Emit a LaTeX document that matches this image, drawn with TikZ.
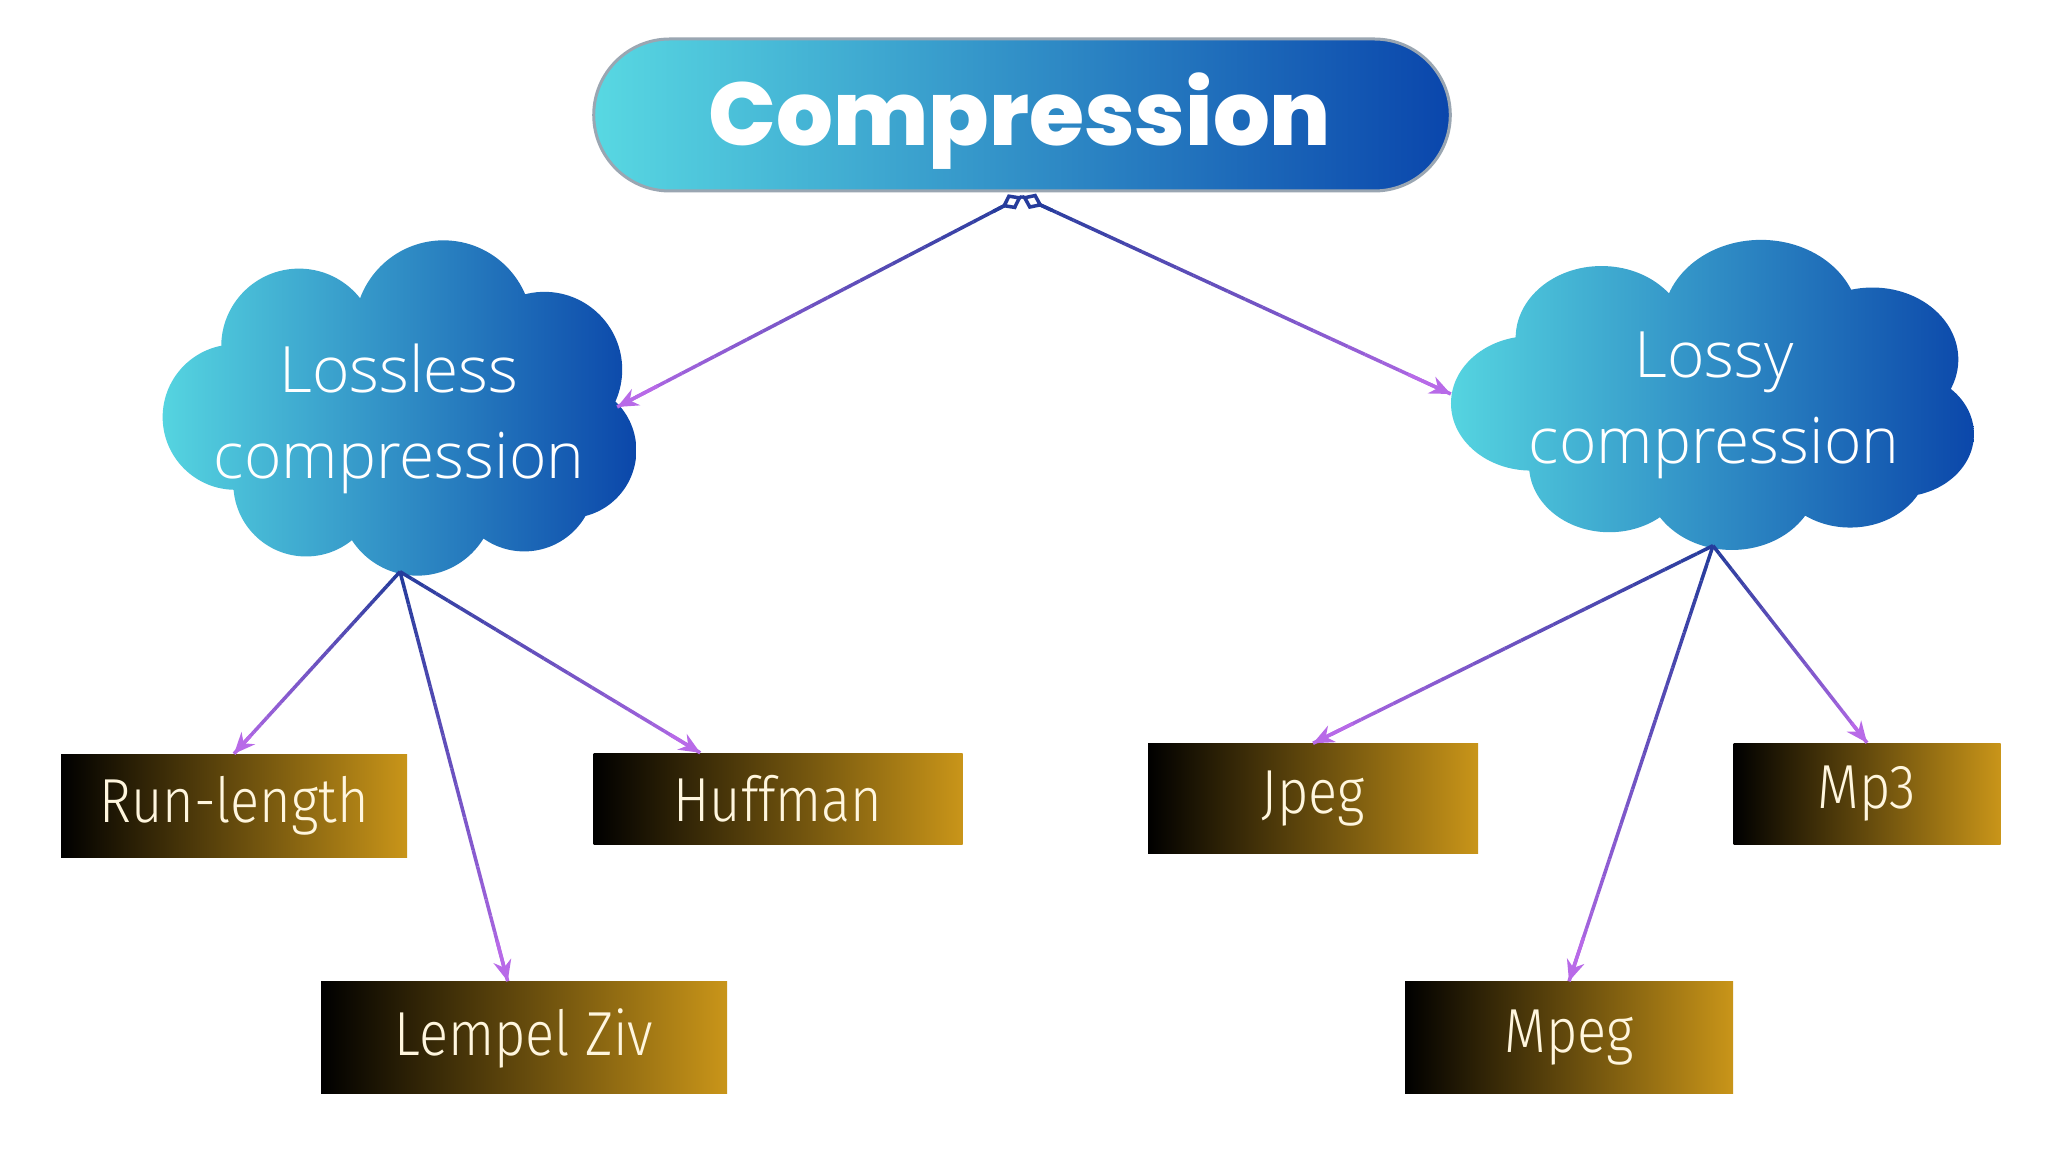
\documentclass[tikz,border=0pt]{standalone}
\usepackage{fontspec}
\setmainfont{Open Sans}
\newfontfamily\titlefont{Poppins}[UprightFont=* ExtraBold]
\newfontfamily\cloudfont{Open Sans Light}
\newfontfamily\boxfont{Fira Sans Light}[FakeStretch=0.87]
\usetikzlibrary{shapes.misc,arrows.meta,calc}
\definecolor{pillL}{HTML}{58D8E2}
\definecolor{pillR}{HTML}{0A46AC}
\definecolor{pillborder}{HTML}{9AA6B2}
\definecolor{cloudL}{HTML}{55D4E0}
\definecolor{cloudR}{HTML}{0B47AA}
\definecolor{boxR}{HTML}{C99519}
\definecolor{boxtext}{HTML}{FFF6DE}
\definecolor{lineblue}{HTML}{263C9C}
\definecolor{linepurple}{HTML}{B86AE8}
\newcommand\gline[3][]{%
  \foreach \k in {0,...,24}{%
    \pgfmathsetmacro\gA{\k/25}%
    \pgfmathsetmacro\gB{(\k+1)/25}%
    \pgfmathtruncatemacro\gC{100-4*\k}%
    \draw[conn, draw=lineblue!\gC!linepurple] ($(#2)!\gA!(#3)$) -- ($(#2)!\gB!(#3)$);
  }%
  \draw[conn, draw=linepurple, -{Stealth[length=2.1mm,width=1.8mm]}] ($(#2)!0.9!(#3)$) -- (#3);
  \ifx\relax#1\relax\else
    \draw[conn, draw=lineblue, {Diamond[length=2.3mm,width=1.7mm,fill=white]}-] (#2) -- ($(#2)!0.07!(#3)$);
  \fi
}
% cloud outline: union of circles, shaded left to right
\newcommand\cloudshape[4]{%
  \begin{scope}[shift={(#1,#2)}, xscale=#3, yscale=#4]
    \shade[left color=cloudL, right color=cloudR]
      (-163,10) circle[radius=72]
      (-100,-60) circle[radius=77]
      (43,-77) circle[radius=88]
      (143,-37) circle[radius=77]
      (167,43) circle[radius=67]
      (123,73) circle[radius=70]
      (17,90) circle[radius=77]
      (-93,76) circle[radius=72]
      (0,10) ellipse[x radius=150, y radius=100];
  \end{scope}}
\begin{document}
\begin{tikzpicture}[x=0.1mm,y=-0.1mm,
  pill/.style={rounded rectangle, minimum width=88mm, minimum height=15.2mm,
    left color=pillL, right color=pillR, draw=pillborder, line width=0.3mm},
  titletext/.style={text=white, inner sep=0pt, anchor=base,
    font=\titlefont\fontsize{25.4}{30}\selectfont},
  anchorbox/.style={rectangle, inner sep=0pt},
  cloudtext/.style={text=white, align=center, inner sep=0pt,
    font=\cloudfont\fontsize{18.2}{24.5}\selectfont},
  tbox/.style={rectangle, left color=black, right color=boxR, text=boxtext,
    inner sep=0pt, font=\boxfont\fontsize{17.7}{20}\selectfont},
  conn/.style={line width=1pt}
]
\fill[white] (0,0) rectangle (2048,1152);
\useasboundingbox (0,0) rectangle (2048,1152);

\node[pill] (comp) at (1022,115) {};
\node[titletext] (comptext) at (1020,146) {Compression};

\cloudshape{400}{407}{1.01}{1.01}
\node[anchorbox, minimum width=47.3mm, minimum height=33.6mm] (lossless) at (400,407) {};
\node[cloudtext] (losslesst) at (399,419) {Lossless\\compression};
\cloudshape{1713}{394}{1.115}{0.934}
\node[anchorbox, minimum width=52.3mm, minimum height=31mm] (lossy) at (1713,394) {};
\node[cloudtext] (lossyt) at (1714,405) {Lossy\\compression};

\node[tbox, minimum width=34.6mm, minimum height=10.3mm] (runlen) at (234,806) {Run-length};
\node[tbox, minimum width=36.9mm, minimum height=9.1mm] (huff) at (778,799) {Huffman};
\node[tbox, minimum width=40.6mm, minimum height=11.2mm] (lempel) at (524,1038) {Lempel Ziv};
\node[tbox, minimum width=33mm, minimum height=11mm] (jpeg) at (1313,799) {Jpeg};
\node[tbox, minimum width=26.7mm, minimum height=10.1mm] (mp3) at (1867,794) {Mp3};
\node[tbox, minimum width=32.8mm, minimum height=11.2mm] (mpeg) at (1569,1038) {Mpeg};

\coordinate (ctop) at ([yshift=-0.4mm]comp.south);
\coordinate (losslessin) at ([xshift=-2mm]lossless.east);
\coordinate (lossyin) at (lossy.west);
\coordinate (losslessout) at ([yshift=0.4mm]lossless.south);
\coordinate (lossyout) at ([yshift=0.4mm]lossy.south);
\coordinate (hufftop) at ($(huff.north west)!0.29!(huff.north east)$);
\coordinate (lempeltop) at ($(lempel.north west)!0.46!(lempel.north east)$);

\gline[d]{ctop}{losslessin}
\gline[d]{ctop}{lossyin}
\gline{losslessout}{runlen.north}
\gline{losslessout}{lempeltop}
\gline{losslessout}{hufftop}
\gline{lossyout}{jpeg.north}
\gline{lossyout}{mpeg.north}
\gline{lossyout}{mp3.north}
\end{tikzpicture}
\end{document}
